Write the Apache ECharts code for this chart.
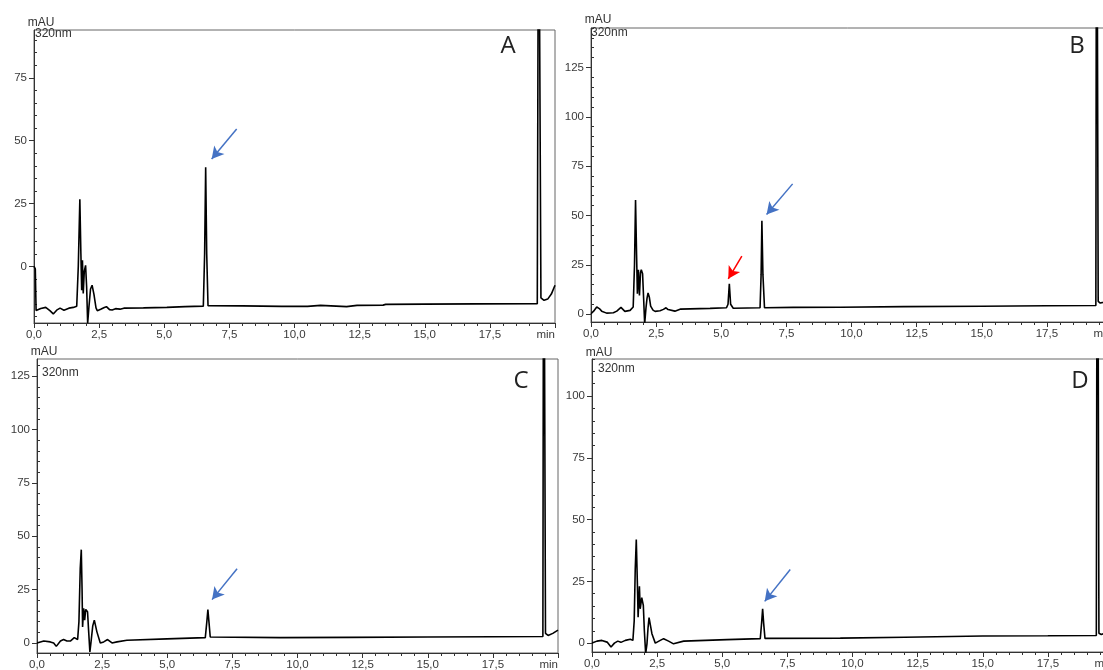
<!DOCTYPE html>
<html>
<head>
<meta charset="utf-8">
<title>320nm chromatograms</title>
<script src="https://cdn.jsdelivr.net/npm/echarts@6/dist/echarts.min.js"></script>
<style>
  html, body { margin: 0; padding: 0; background: #fff; overflow: hidden; }
  #main { width: 1103px; height: 670px; }
</style>
</head>
<body>
<div id="main"></div>
<script>
// x axis (retention time, min)
var xTicks = [0, 2.5, 5, 7.5, 10, 12.5, 15, 17.5, 20];
var xLabels = ['0,0', '2,5', '5,0', '7,5', '10,0', '12,5', '15,0', '17,5', 'min'];

// y axis labels (mAU) per panel
var yTicksA = [0, 25, 50, 75];
var yTicksB = [0, 25, 50, 75, 100, 125];
var yTicksC = [0, 25, 50, 75, 100, 125];
var yTicksD = [0, 25, 50, 75, 100];

// traces: [time, mAU]
var traceA = [[0,0],[0.05,-1],[0.08,-17.5],[0.26,-16.7],[0.45,-16.3],[0.61,-17.6],[0.74,-18.9],[0.87,-17.4],[1.0,-16.6],
  [1.15,-17.4],[1.34,-16.6],[1.51,-16.3],[1.64,-15.8],[1.7,0],[1.76,26.7],[1.8,5],[1.83,-9.5],[1.86,2.4],[1.89,-10.8],
  [1.93,-2],[1.98,0.4],[2.02,-8],[2.06,-22.6],[2.11,-16],[2.17,-9],[2.23,-7.5],[2.3,-11],[2.38,-16.5],[2.43,-17.6],
  [2.56,-17],[2.7,-16.3],[2.78,-16],[2.9,-17.2],[3.0,-17.3],[3.13,-16.8],[3.3,-17.0],[3.45,-16.6],[4.2,-16.5],[5.1,-16.3],
  [5.8,-16.0],[6.5,-15.8],[6.55,5],[6.59,39.4],[6.63,5],[6.68,-15.6],[8,-15.7],[9.5,-15.9],[10.5,-15.9],[11,-15.5],
  [11.6,-15.8],[12,-16.0],[12.4,-15.5],[13.4,-15.4],[13.5,-15.1],[15,-15.0],[17,-14.9],[19.32,-14.8],[19.37,180],
  [19.41,180],[19.46,-12.5],[19.58,-13.5],[19.72,-13.0],[19.86,-11.0],[20,-7.5]];

var traceB = [[0,0.2],[0.1,1.5],[0.22,3.6],[0.32,2.8],[0.41,1.5],[0.6,0.5],[0.86,0.7],[0.99,1.5],[1.15,3.4],[1.3,1.4],
  [1.5,1.9],[1.62,3.6],[1.67,25],[1.71,57.8],[1.75,30],[1.78,10.3],[1.82,22.5],[1.86,9.5],[1.9,21],[1.93,22.5],
  [1.98,20.5],[2.02,8],[2.06,-4.9],[2.11,3],[2.15,8],[2.19,10.7],[2.24,8.5],[2.29,4],[2.38,2],[2.46,1.4],[2.65,1.7],
  [2.78,2.4],[2.88,3.2],[2.96,2.3],[3.03,1.5],[3.22,1.5],[3.42,2.5],[4.57,2.9],[5.2,3.2],[5.26,5],[5.31,15.4],[5.36,5],
  [5.46,3.0],[6.0,3.1],[6.49,3.2],[6.53,20],[6.56,47.3],[6.6,20],[6.66,3.2],[7.77,3.4],[9.56,3.5],[12,3.8],[15,4.0],
  [17.5,4.2],[19.38,4.4],[19.41,300],[19.44,300],[19.47,6.5],[19.55,5.6],[20,7]];

var traceC = [[0,0],[0.26,0.9],[0.51,0.5],[0.64,0],[0.74,-1.6],[0.9,0.9],[1.02,1.6],[1.15,0.9],[1.28,0.9],[1.43,2.5],
  [1.56,1.6],[1.61,10],[1.66,35],[1.7,43.7],[1.73,25],[1.75,7.5],[1.79,16.2],[1.83,10.7],[1.87,15.7],[1.94,14.6],
  [1.98,6],[2.03,-4.2],[2.07,0],[2.14,8],[2.2,10.7],[2.3,5.2],[2.43,0],[2.56,0.5],[2.71,1.6],[2.88,0],[3.07,0.5],
  [3.45,1.3],[4.99,1.9],[6.46,2.5],[6.52,10],[6.56,15.7],[6.6,10],[6.65,2.8],[9.34,2.5],[12,2.6],[15,2.8],[17.5,2.9],
  [19.42,3.0],[19.45,260],[19.49,260],[19.52,4.5],[19.62,3.5],[19.8,4.5],[20,6]];

var traceD = [[0,0],[0.19,0.8],[0.38,1.1],[0.58,0.4],[0.73,-1.6],[0.86,0],[0.99,0.8],[1.11,0.3],[1.28,1.1],[1.47,1.6],
  [1.57,1.1],[1.62,9],[1.66,30],[1.7,41.9],[1.74,25],[1.77,10.5],[1.82,23],[1.85,13.9],[1.91,18.4],[1.97,15.3],
  [2.01,5],[2.06,-4.3],[2.11,-0.3],[2.15,6],[2.19,10.3],[2.3,3.8],[2.43,0],[2.62,1.1],[2.75,1.8],[2.94,0.8],[3.13,-0.3],
  [3.52,0.8],[5.18,1.4],[6.46,1.8],[6.51,8],[6.55,13.9],[6.59,8],[6.64,1.9],[9.53,2.0],[12,2.4],[15,2.9],[17.5,3.0],
  [19.36,3.1],[19.4,260],[19.43,260],[19.46,4],[19.55,3.5],[19.7,4],[20,6]];

// annotation arrows: [fromT, fromY, toT, toY, colour]
var arrowsA = [[7.78, 54.6, 6.82, 42.7, '#4472c4']];
var arrowsB = [[7.74, 66.0, 6.74, 50.5, '#4472c4'], [5.79, 29.4, 5.27, 17.9, '#ff0000']];
var arrowsC = [[7.68, 34.8, 6.72, 20.3, '#4472c4']];
var arrowsD = [[7.61, 29.8, 6.63, 16.9, '#4472c4']];

var panels = [
  { trace: traceA, yMin: -22.5, yMax: 94, yTicks: yTicksA, arrows: arrowsA, letter: 'A',
    grid: { left: 34, top: 30, width: 521, height: 293 }, mau: [41, 23], nm: [35, 34], letterPos: [508, 46] },
  { trace: traceB, yMin: -4, yMax: 145, yTicks: yTicksB, arrows: arrowsB, letter: 'B',
    grid: { left: 591, top: 28, width: 521, height: 294 }, mau: [598, 20], nm: [591, 33], letterPos: [1077, 46] },
  { trace: traceC, yMin: -4.7, yMax: 133, yTicks: yTicksC, arrows: arrowsC, letter: 'C',
    grid: { left: 37, top: 359, width: 521, height: 294 }, mau: [44, 352], nm: [42, 373], letterPos: [521, 381] },
  { trace: traceD, yMin: -3.6, yMax: 115, yTicks: yTicksD, arrows: arrowsD, letter: 'D',
    grid: { left: 592, top: 359, width: 521, height: 293 }, mau: [599, 353], nm: [598, 369], letterPos: [1080, 381] }
];

var font = "'Liberation Sans', Arial, sans-serif";

function minorTicks(min, max) {
  var out = [];
  for (var v = Math.ceil(min / 5) * 5; v <= max; v += 5) {
    if (v % 25 !== 0) out.push(v);
  }
  return out;
}

var grids = [], xAxes = [], yAxes = [], series = [], graphics = [];

panels.forEach(function (p, i) {
  grids.push(Object.assign({
    show: true, borderColor: '#666', borderWidth: 1,
    containLabel: false, outerBoundsMode: 'none'
  }, p.grid));

  xAxes.push({
    gridIndex: i, type: 'value', min: 0, max: 20, interval: 2.5,
    axisLine: { show: true, onZero: false, lineStyle: { color: '#333', width: 1 } },
    axisTick: { show: true, length: 5, lineStyle: { color: '#333' } },
    minorTick: { show: true, splitNumber: 5, length: 3, lineStyle: { color: '#333' } },
    splitLine: { show: false },
    axisLabel: {
      fontSize: 11.5, color: '#3a3a3a', fontFamily: font, margin: 6, alignMaxLabel: 'right',
      formatter: function (v) { return xLabels[xTicks.indexOf(v)]; }
    }
  });

  // major ticks + labels
  yAxes.push({
    gridIndex: i, type: 'value', min: p.yMin, max: p.yMax,
    axisLine: { show: true, onZero: false, lineStyle: { color: '#333', width: 1 } },
    axisTick: { show: true, length: 5, customValues: p.yTicks, lineStyle: { color: '#333' } },
    axisLabel: { customValues: p.yTicks, fontSize: 11.5, color: '#3a3a3a', fontFamily: font, margin: 7 },
    splitLine: { show: false }
  });
  // minor ticks only
  yAxes.push({
    gridIndex: i, type: 'value', min: p.yMin, max: p.yMax,
    axisLine: { show: false },
    axisTick: { show: true, length: 3, customValues: minorTicks(p.yMin, p.yMax), lineStyle: { color: '#333' } },
    axisLabel: { show: false },
    splitLine: { show: false }
  });

  series.push({
    type: 'line', xAxisIndex: i, yAxisIndex: i * 2,
    data: p.trace, showSymbol: false, symbol: 'none', clip: true,
    lineStyle: { color: '#000', width: 1.6 },
    markLine: {
      silent: true, symbol: ['none', 'arrow'], symbolSize: [10, 12],
      label: { show: false },
      lineStyle: { type: 'solid', width: 1.5 },
      data: p.arrows.map(function (a) {
        return [
          { coord: [a[0], a[1]], lineStyle: { color: a[4], type: 'solid', width: 1.5 }, itemStyle: { color: a[4] } },
          { coord: [a[2], a[3]] }
        ];
      })
    }
  });

  graphics.push({ type: 'text', x: p.mau[0], y: p.mau[1],
    style: { text: 'mAU', font: '12px ' + font, fill: '#333', align: 'center', verticalAlign: 'middle' } });
  graphics.push({ type: 'text', x: p.nm[0], y: p.nm[1],
    style: { text: '320nm', font: '12px ' + font, fill: '#333', align: 'left', verticalAlign: 'middle' } });
  graphics.push({ type: 'text', x: p.letterPos[0], y: p.letterPos[1],
    style: { text: p.letter, font: '24px "Open Sans", sans-serif', fill: '#222', align: 'center', verticalAlign: 'middle' } });
});

var chart = echarts.init(document.getElementById('main'));
chart.setOption({
  animation: false,
  backgroundColor: '#fff',
  grid: grids,
  xAxis: xAxes,
  yAxis: yAxes,
  series: series,
  graphic: graphics
});
</script>
</body>
</html>
